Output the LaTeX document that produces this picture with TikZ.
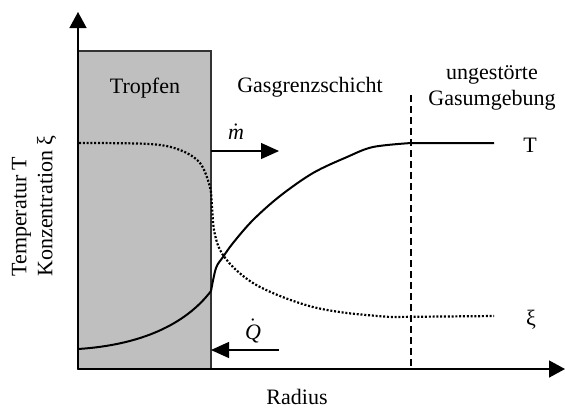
\documentclass[tikz,border=0pt]{standalone}
\usepackage{fontspec}
\setmainfont{Liberation Serif}
\usetikzlibrary{arrows.meta}

\begin{document}
\begin{tikzpicture}[
	x=0.5pt, y=-0.5pt,
	lbl/.style = {font=\fontsize{11}{13}\selectfont, inner sep=0pt},
	ax/.style = {-{Triangle[length=8pt, width=8.5pt]}, line width=0.7pt},
	fl/.style = {-{Triangle[length=9pt, width=8pt]}, line width=0.6pt},
	cv/.style = {line width=1pt},
	dt/.style = {line width=1.1pt, dash pattern=on 1pt off 0.9pt},
	bd/.style = {line width=0.8pt, dash pattern=on 3.5pt off 2pt}
	]
	\useasboundingbox (0,0) rectangle (565,409);

	%Drop
	\draw[fill=black!25, draw=black!80, line width=0.7pt] (78,51) rectangle (211,369);

	%Coordinates
	\coordinate (O)    at (78,369);
	\coordinate (ytop) at (78,12);
	\coordinate (xend) at (565,369);
	\coordinate (s1)   at (211,151);
	\coordinate (m1)   at (279,151);
	\coordinate (q0)   at (279,350);
	\coordinate (s2)   at (211,350);
	\coordinate (b1)   at (411,95);
	\coordinate (b0)   at (411,369);

	%Curves
	\draw[dt] plot[smooth, tension=0.55] coordinates {(79,143) (150,144) (180,150) (200,163) (210,187) (212,207) (214,230) (220,250) (233,267) (253,283) (280,296) (313,307) (347,313) (390,317)} -- (494,316);
	\draw[cv] (78,349) .. controls (140,345) and (185,325) .. (211,291);
	\draw[cv] plot[smooth, tension=0.55] coordinates {(211,291) (216,268) (223,257) (233,243) (253,220) (280,196) (313,173) (347,157) (373,147) (411,143)} -- (494,143);

	%Nodes
	\node[lbl]	(drop)	at	(145,88)	{Tropfen};
	\node[lbl]	(gas)	at	(310,87)	{Gasgrenzschicht};
	\node[lbl, align=center]	(amb)	at	(492,88)	{ungestörte\\Gasumgebung};
	\node[lbl]	(mdot)	at	(236,132)	{$\dot{\textit{m}}$};
	\node[lbl]	(qdot)	at	(253,331)	{$\dot{\textit{Q}}$};
	\node[lbl]	(tl)	at	(530,145)	{T};
	\node[lbl]	(xl)	at	(531,320)	{ξ};
	\node[lbl]	(rad)	at	(297,397)	{Radius};
	\node[lbl, rotate=90, align=left, anchor=west]	(yl)	at	(34,277)	{Temperatur T\\Konzentration ξ};

	%Lines
	\draw[ax]	(O)	to	(ytop);
	\draw[ax]	(O)	to	(xend);
	\draw[fl]	(s1)	to	(m1);
	\draw[fl]	(q0)	to	(s2);
	\draw[bd]	(b1)	to	(b0);
\end{tikzpicture}
\end{document}
